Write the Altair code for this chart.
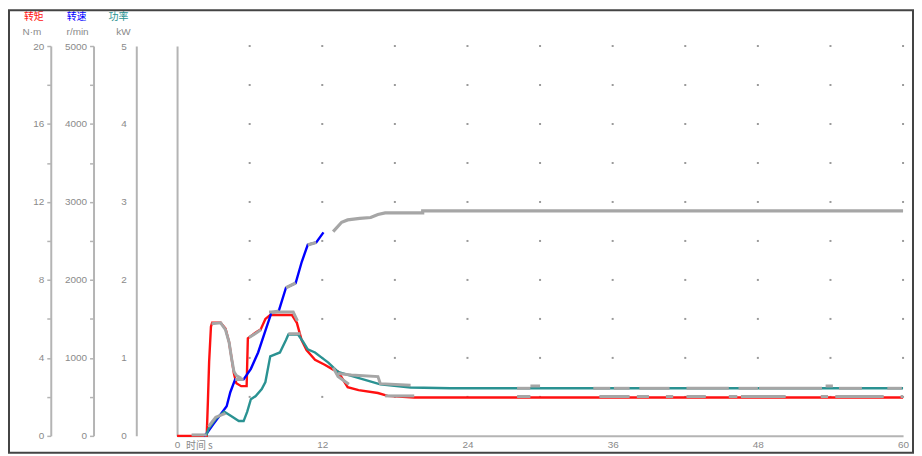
import altair as alt
import pandas as pd

# ---------------- data ----------------
# Torque (N·m) - red
torque_t = [0, 2.45, 2.55, 2.65, 2.8, 2.9, 3.6, 4.0, 4.3, 4.5, 4.7, 4.9, 5.3, 5.75, 5.85, 6.5, 6.9, 7.3, 7.7, 9.5,
            9.9, 10.3, 10.7, 11.4, 12.2, 12.9, 13.3, 14.1, 15.0, 16.6, 17.4, 19.6, 60]
torque_v = [0, 0, 1.8, 3.8, 5.6, 5.8, 5.8, 5.5, 4.8, 4.0, 3.2, 2.7, 2.55, 2.55, 5.0, 5.3, 5.45, 6.0, 6.2, 6.2,
            5.8, 4.9, 4.4, 3.9, 3.65, 3.4, 3.3, 2.5, 2.35, 2.2, 2.05, 1.97, 1.97]

# Speed (r/min) - blue
speed_t = [2.2, 2.4, 3.0, 4.1, 4.4, 4.8, 5.5, 6.1, 6.7, 7.3, 7.8, 8.4, 9.0, 9.8, 10.3, 10.8, 11.5, 12.1]
speed_v = [0, 20, 150, 380, 560, 725, 725, 860, 1070, 1350, 1580, 1600, 1900, 1960, 2230, 2450, 2480, 2610]

# Power (kW) - teal
power_t = [2.4, 2.6, 3.2, 3.9, 4.4, 5.1, 5.5, 5.8, 6.1, 6.5, 7.0, 7.3, 7.7, 8.5, 9.0, 9.2, 10.0, 10.4, 10.8, 11.4,
           11.9, 12.5, 13.3, 14.4, 16.8, 19.3, 22.6, 60]
power_v = [0, 0.09, 0.22, 0.31, 0.26, 0.19, 0.19, 0.31, 0.47, 0.51, 0.60, 0.69, 1.02, 1.07, 1.23, 1.30, 1.30, 1.21,
           1.11, 1.07, 1.01, 0.94, 0.82, 0.77, 0.66, 0.62, 0.61, 0.61]

# Gray overlay trace (second record), drawn in pieces
gray_speed_t = [12.9, 13.6, 14.1, 15.1, 16.0, 16.6, 17.2, 20.3, 20.3, 60]
gray_speed_v = [2620, 2740, 2770, 2790, 2800, 2840, 2860, 2860, 2885, 2885]
gray_speed_pieces = [
    [(4.8, 725), (5.5, 725)],
    [(7.8, 1580), (8.4, 1600)],
    [(9.0, 1900), (9.8, 1960)],
    [(10.8, 2450), (11.5, 2480)],
]
gray_torque_pieces = [
    [(1.2, 0.05), (2.45, 0.05)],
    [(2.85, 5.75), (3.6, 5.8), (4.0, 5.45), (4.3, 4.8), (4.5, 4.0), (4.7, 3.3), (4.9, 3.1), (5.3, 2.95)],
    [(5.95, 5.05), (6.6, 5.3), (6.95, 5.45)],
    [(7.6, 6.35), (9.6, 6.35), (9.95, 5.9)],
    [(12.9, 3.5), (13.3, 3.05), (14.2, 2.65)],
    [(17.2, 2.05), (19.6, 2.05)],
]
gray_torque_late_start = [28.1, 34.9, 38.0, 40.4, 42.1, 45.6, 46.6, 53.2, 54.4, 59.8]
gray_torque_late_end = [29.2, 37.4, 39.0, 41.0, 43.7, 46.3, 50.3, 53.8, 58.4, 60.0]
gray_torque_late_v = 2.02

gray_power_pieces = [
    [(2.6, 0.12), (3.2, 0.24), (4.0, 0.29)],
    [(9.2, 1.31), (10.2, 1.31)],
    [(13.3, 0.80), (14.4, 0.78), (16.6, 0.76), (16.8, 0.67), (19.3, 0.65)],
]
gray_power_late_start = [28.1, 29.2, 34.4, 36.1, 38.2, 42.1, 46.4, 48.1, 53.6, 54.7, 58.7]
gray_power_late_end = [29.2, 30.0, 35.8, 37.4, 40.7, 45.6, 48.0, 53.3, 54.2, 56.6, 59.9]
gray_power_late_v = [0.61, 0.64, 0.61, 0.61, 0.61, 0.61, 0.61, 0.61, 0.64, 0.61, 0.61]

x_labels = [0, 12, 24, 36, 48, 60]

# ---------------- build tables ----------------
def pieces_df(pieces):
    rows = []
    for i, p in enumerate(pieces):
        for t, v in p:
            rows.append({"t": t, "v": v, "seg": i})
    return pd.DataFrame(rows)

df_torque = pd.DataFrame({"t": torque_t, "v": torque_v})
df_speed = pd.DataFrame({"t": speed_t, "v": speed_v})
df_power = pd.DataFrame({"t": power_t, "v": power_v})

gs = [list(zip(gray_speed_t, gray_speed_v))] + gray_speed_pieces
df_gspeed = pieces_df(gs)
gt = gray_torque_pieces + [[(a, gray_torque_late_v), (b, gray_torque_late_v)]
                           for a, b in zip(gray_torque_late_start, gray_torque_late_end)]
df_gtorque = pieces_df(gt)
gp = gray_power_pieces + [[(a, v), (b, v)] for a, b, v in
                          zip(gray_power_late_start, gray_power_late_end, gray_power_late_v)]
df_gpower = pieces_df(gp)

grid_rows = [{"t": gx, "v": gy} for gx in range(6, 61, 6) for gy in range(2, 21, 2)]
df_grid = pd.DataFrame(grid_rows)

# ---------------- styling ----------------
W, H = 730, 392
AX_GRAY = "#b4b4b4"
LBL = "#8a8a8a"
RED, BLUE, TEAL, GRAY = "#ff1010", "#0000ff", "#2a9292", "#a6a6a6"

xscale = alt.Scale(domain=[0, 60], nice=False, zero=False)
xaxis = alt.Axis(values=x_labels, ticks=False, grid=False, domainColor=AX_GRAY, domainWidth=2,
                 labelColor=LBL, labelFontSize=10, labelFont="Liberation Sans", labelFlush=False,
                 labelPadding=4, title=None)

def X():
    return alt.X("t:Q", scale=xscale, axis=xaxis)

def yaxis(offset, values, expr=None, ticks=True, pad=3):
    kw = dict(orient="left", offset=offset, values=values, grid=False, title=None, format="d",
              domainColor=AX_GRAY, domainWidth=2, tickColor=AX_GRAY, tickSize=4, tickWidth=1.5,
              ticks=ticks, labelColor=LBL, labelFontSize=10, labelFont="Liberation Sans",
              labelPadding=pad, labelOverlap=False, labelFlush=False)
    if expr:
        kw["labelExpr"] = expr
    return alt.Axis(**kw)

T_DOM = [0, 20]
S_DOM = [0, 5000]
P_DOM = [0, 5]

def Y(dom, axis=None):
    sc = alt.Scale(domain=dom, nice=False, zero=True)
    if axis is None:
        return alt.Y("v:Q", scale=sc, axis=None)
    return alt.Y("v:Q", scale=sc, axis=axis)

grid = alt.Chart(df_grid).mark_square(size=4, color="#9a9a9a", opacity=1).encode(
    x=X(), y=Y(T_DOM))

red = alt.Chart(df_torque).mark_line(color=RED, strokeWidth=2.4).encode(
    x=X(), y=Y(T_DOM, yaxis(127, list(range(0, 21, 2)), "datum.value % 4 == 0 ? datum.label : ''")))

blue = alt.Chart(df_speed).mark_line(color=BLUE, strokeWidth=2.4).encode(
    x=X(), y=Y(S_DOM, yaxis(84, list(range(0, 5001, 500)), "datum.value % 1000 == 0 ? datum.label : ''")))

teal = alt.Chart(df_power).mark_line(color=TEAL, strokeWidth=2.4).encode(
    x=X(), y=Y(P_DOM, yaxis(41, [0, 1, 2, 3, 4, 5], ticks=False, pad=10)))

g_torque = alt.Chart(df_gtorque).mark_line(color=GRAY, strokeWidth=3).encode(
    x=X(), y=Y(T_DOM, alt.Axis(orient="left", offset=0, labels=False, ticks=False, grid=False,
                                title=None, domainColor=AX_GRAY, domainWidth=2)),
    detail="seg:N")
g_speed = alt.Chart(df_gspeed).mark_line(color=GRAY, strokeWidth=3.2).encode(
    x=X(), y=Y(S_DOM), detail="seg:N")
g_power = alt.Chart(df_gpower).mark_line(color=GRAY, strokeWidth=3).encode(
    x=X(), y=Y(P_DOM), detail="seg:N")

one = alt.Data(values=[{}])
def txt(s, x, y, color, size=10, font="Noto Sans CJK SC", align="center"):
    return alt.Chart(one).mark_text(text=s, color=color, fontSize=size, font=font, align=align,
                                    baseline="middle").encode(x=alt.value(x), y=alt.value(y))

headers = [
    txt("转矩", -144, -29, RED),
    txt("N·m", -146, -14, LBL, font="Liberation Sans"),
    txt("转速", -101, -29, BLUE),
    txt("r/min", -100, -14, LBL, font="Liberation Sans"),
    txt("功率", -59, -29, TEAL),
    txt("kW", -54, -14, LBL, font="Liberation Sans"),
    txt("时间 s", 9, 402, LBL, align="left"),
]

frame = alt.Chart(one).mark_rect(fill=None, stroke="#444444", strokeWidth=2).encode(
    x=alt.value(-169), x2=alt.value(740), y=alt.value(-36), y2=alt.value(409))

chart = alt.layer(grid, red, blue, teal, g_torque, g_speed, g_power, *headers, frame).resolve_scale(
    y="independent").properties(
    width=W, height=H,
    autosize=alt.AutoSizeParams(type="none"),
    padding={"left": 170, "top": 37, "right": 11, "bottom": 18},
    background="white",
).configure_view(stroke=None)

chart.save("out.html", embed_options={"renderer": "svg", "actions": False})
